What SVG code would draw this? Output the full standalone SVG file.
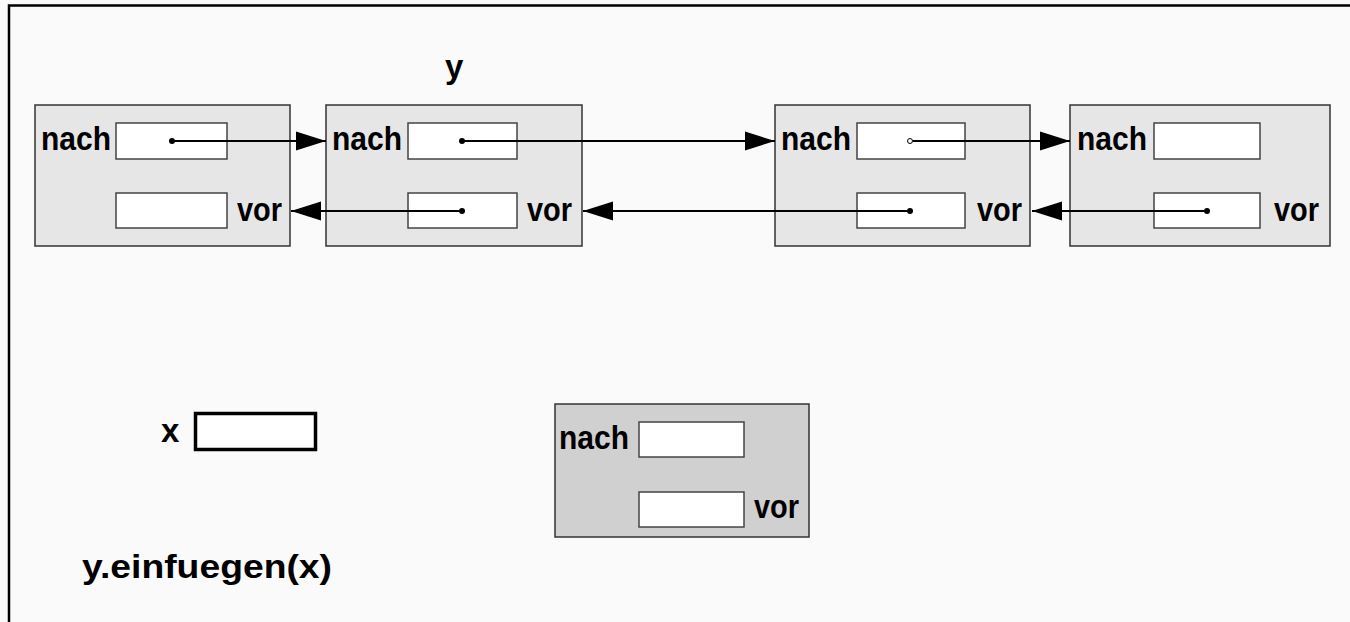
<svg xmlns="http://www.w3.org/2000/svg" width="1350" height="622" viewBox="0 0 1350 622">
  <style>
    .lbl { font-family: "Liberation Sans", Arial, sans-serif; font-weight: bold; font-size: 33px; fill: #000; }
    .node { fill: #e6e6e6; stroke: #333; stroke-width: 1.5; }
    .node-new { fill: #d0d0d0; stroke: #333; stroke-width: 1.5; }
    .slot { fill: #fff; stroke: #444; stroke-width: 1.5; }
    .ptr { stroke: #000; stroke-width: 2; fill: none; }
  </style>
  <defs>
    <marker id="head" markerWidth="30" markerHeight="20" refX="30" refY="10" orient="auto" markerUnits="userSpaceOnUse">
      <path d="M0,0.5 L30,10 L0,19.5 Z" fill="#000"/>
    </marker>
  </defs>

  <!-- background and frame -->
  <rect x="0" y="0" width="1350" height="622" fill="#fafafa"/>
  <path d="M9,622 V5.5 H1350" fill="none" stroke="#000" stroke-width="2.5"/>

  <text class="lbl" x="445" y="78" font-size="34">y</text>

  <!-- list elements -->
  <g id="node1">
    <rect class="node" x="35" y="105" width="255" height="141"/>
    <text class="lbl" x="41" y="150" textLength="70" lengthAdjust="spacingAndGlyphs">nach</text>
    <rect class="slot" x="116" y="123" width="111" height="36"/>
    <rect class="slot" x="116" y="193" width="111" height="35"/>
    <text class="lbl" x="237" y="221" textLength="45" lengthAdjust="spacingAndGlyphs">vor</text>
  </g>
  <g id="node2">
    <rect class="node" x="326" y="105" width="256" height="141"/>
    <text class="lbl" x="332" y="150" textLength="70" lengthAdjust="spacingAndGlyphs">nach</text>
    <rect class="slot" x="408" y="123" width="109" height="36"/>
    <rect class="slot" x="408" y="193" width="109" height="35"/>
    <text class="lbl" x="527" y="221" textLength="45" lengthAdjust="spacingAndGlyphs">vor</text>
  </g>
  <g id="node3">
    <rect class="node" x="775" y="105" width="255" height="141"/>
    <text class="lbl" x="781" y="150" textLength="70" lengthAdjust="spacingAndGlyphs">nach</text>
    <rect class="slot" x="857" y="123" width="108" height="36"/>
    <rect class="slot" x="857" y="193" width="108" height="35"/>
    <text class="lbl" x="977" y="221" textLength="45" lengthAdjust="spacingAndGlyphs">vor</text>
  </g>
  <g id="node4">
    <rect class="node" x="1070" y="105" width="260" height="141"/>
    <text class="lbl" x="1077" y="150" textLength="70" lengthAdjust="spacingAndGlyphs">nach</text>
    <rect class="slot" x="1154" y="123" width="106" height="36"/>
    <rect class="slot" x="1154" y="193" width="106" height="35"/>
    <text class="lbl" x="1274" y="221" textLength="45" lengthAdjust="spacingAndGlyphs">vor</text>
  </g>

  <!-- new element and variable x -->
  <g id="node-new">
    <rect class="node-new" x="555" y="404" width="254" height="133"/>
    <text class="lbl" x="559" y="449" textLength="70" lengthAdjust="spacingAndGlyphs">nach</text>
    <rect class="slot" x="639" y="422" width="105" height="35"/>
    <rect class="slot" x="639" y="492" width="105" height="35"/>
    <text class="lbl" x="754" y="518" textLength="45" lengthAdjust="spacingAndGlyphs">vor</text>
  </g>
  <g id="var-x">
    <text class="lbl" x="161" y="442" font-size="34">x</text>
    <rect x="195.5" y="413.5" width="120" height="36" fill="#fff" stroke="#000" stroke-width="3.5"/>
  </g>

  <text class="lbl" x="82" y="578" font-size="36" textLength="250" lengthAdjust="spacingAndGlyphs">y.einfuegen(x)</text>

  <!-- pointers -->
  <g id="connectors">
    <line class="ptr" x1="172" y1="141" x2="326" y2="141" marker-end="url(#head)"/>
    <circle cx="172" cy="141" r="3" fill="#000"/>
    <line class="ptr" x1="462" y1="141" x2="775" y2="141" marker-end="url(#head)"/>
    <circle cx="462" cy="141" r="3" fill="#000"/>
    <line class="ptr" x1="913" y1="141" x2="1070" y2="141" marker-end="url(#head)"/>
    <circle cx="910" cy="141" r="2.5" fill="#fff" stroke="#000" stroke-width="1"/>

    <line class="ptr" x1="462" y1="211" x2="291" y2="211" marker-end="url(#head)"/>
    <circle cx="462" cy="211" r="3" fill="#000"/>
    <line class="ptr" x1="910" y1="211" x2="583" y2="211" marker-end="url(#head)"/>
    <circle cx="910" cy="211" r="3" fill="#000"/>
    <line class="ptr" x1="1207" y1="211" x2="1032" y2="211" marker-end="url(#head)"/>
    <circle cx="1207" cy="211" r="3" fill="#000"/>
  </g>
</svg>
